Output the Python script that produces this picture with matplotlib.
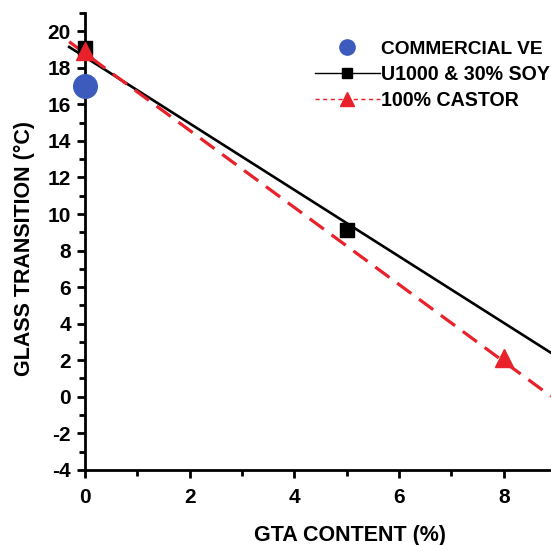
import numpy as np
import matplotlib
matplotlib.use('Agg')
import matplotlib.pyplot as plt
from matplotlib.lines import Line2D
from matplotlib.ticker import MultipleLocator

plt.rcParams['font.family'] = ['Liberation Sans', 'DejaVu Sans']
plt.rcParams['font.weight'] = 'bold'
plt.rcParams['axes.unicode_minus'] = False

# measured glass transition values
ve_x = [0]
ve_tg = [17.0]
soy_x = [0, 5]
soy_tg = [19.1, 9.1]
castor_x = [0, 8]
castor_tg = [18.9, 2.1]

# linear fits drawn across the axis
soy_fit = (-1.82, 18.6)
castor_fit = (-2.11, 18.8)

blue = '#3c5bbd'
red = '#e8212a'

fig = plt.figure(figsize=(5.51, 5.45), dpi=100)
ax = fig.add_axes([0.154, 0.138, 0.846, 0.838])

xf = np.linspace(-0.3, 8.9, 50)
ax.plot(xf, soy_fit[0] * xf + soy_fit[1], color='black', lw=1.9, zorder=2, clip_on=False)
ax.plot(xf, castor_fit[0] * xf + castor_fit[1], color=red, lw=2.3,
        dashes=(5.5, 3), zorder=2, clip_on=False)

ax.plot(soy_x, soy_tg, 's', color='black', ms=9.5, zorder=3, clip_on=False)
ax.plot(castor_x, castor_tg, '^', color=red, ms=13, zorder=4, clip_on=False)
ax.plot(ve_x, ve_tg, 'o', color=blue, ms=17, zorder=5, clip_on=False)

ax.set_xlim(0, 8.9)
ax.set_ylim(-4, 21)
ax.set_xticks([0, 2, 4, 6, 8])
ax.xaxis.set_minor_locator(MultipleLocator(1))
ax.set_yticks(np.arange(-4, 21, 2))
ax.yaxis.set_minor_locator(MultipleLocator(1))

for s in ['top', 'right']:
    ax.spines[s].set_visible(False)
for s in ['left', 'bottom']:
    ax.spines[s].set_linewidth(2.0)

ax.tick_params(which='major', direction='out', length=6, width=2.0, labelsize=15)
ax.tick_params(which='minor', direction='out', length=4, width=2.0)
ax.tick_params(axis='x', which='major', pad=7)
ax.tick_params(axis='y', which='major', pad=4)
for lab in ax.get_xticklabels() + ax.get_yticklabels():
    lab.set_fontweight('bold')

ax.set_xlabel('GTA CONTENT (%)', fontsize=15.5, fontweight='bold')
ax.set_ylabel('GLASS TRANSITION (\u00b0C)', fontsize=15.5, fontweight='bold')
ax.xaxis.set_label_coords(0.569, -0.121)
ax.yaxis.set_label_coords(-0.107, 0.4836)

handles = [
    Line2D([], [], ls='none', marker='o', color=blue, ms=11),
    Line2D([], [], ls='-', lw=1, color='black', marker='s', ms=7.5),
    Line2D([], [], ls='--', lw=1, color=red, marker='^', ms=10, dashes=(3, 2.5)),
]
labels = ['COMMERCIAL VE', 'U1000 & 30% SOY', '100% CASTOR']
leg = ax.legend(handles, labels, loc='upper left', bbox_to_anchor=(0.4936, 0.94),
                frameon=False, fontsize=14.1, handlelength=3.3, handletextpad=0.05,
                labelspacing=0.35, borderpad=0, borderaxespad=0)
for t in leg.get_texts():
    t.set_fontweight('bold')
leg.get_texts()[0].set_fontsize(13.8)

fig.savefig('out.png', dpi=100)
